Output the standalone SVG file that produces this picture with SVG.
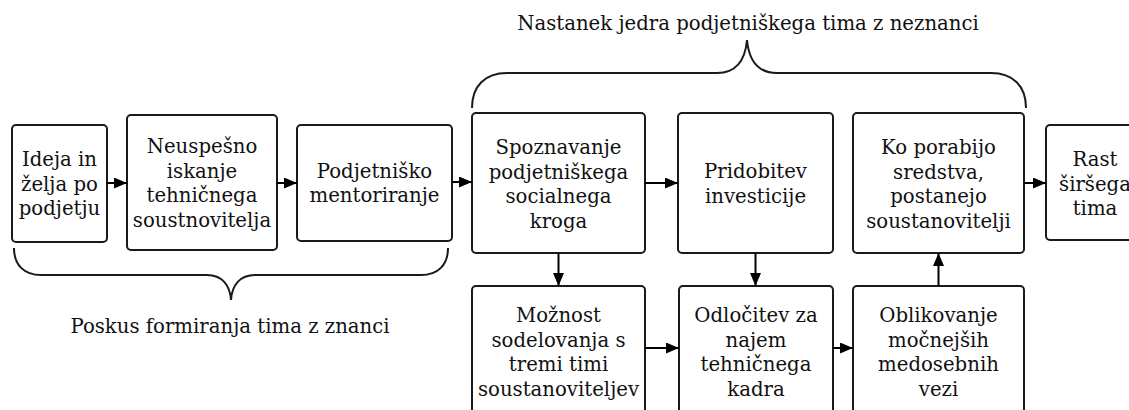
<svg xmlns="http://www.w3.org/2000/svg" width="1129" height="410" viewBox="0 0 1129 410">
<style>
.box{fill:#fff;stroke:#1a1a1a;stroke-width:2}
.t{font-family:"DejaVu Serif","Liberation Serif",serif;font-size:19.7px;fill:#111;text-anchor:middle}
.c{stroke:#000;stroke-width:2;fill:none}
.br{stroke:#1a1a1a;stroke-width:2;fill:none}
</style>
<defs>
<marker id="ah" viewBox="0 0 13 11" refX="13" refY="5.5" markerWidth="13" markerHeight="11" markerUnits="userSpaceOnUse" orient="auto">
<path d="M0,0 L13,5.5 L0,11 Z" fill="#000"/>
</marker>
</defs>
<rect width="1129" height="410" fill="#fff"/>
<g id="n1"><rect class="box" x="12" y="125" width="95" height="117" rx="4"/>
<text class="t"><tspan x="59.5" y="166">Ideja in</tspan><tspan x="59.5" y="190.5">želja po</tspan><tspan x="59.5" y="215">podjetju</tspan></text></g>
<g id="n2"><rect class="box" x="127" y="115" width="150" height="135" rx="4"/>
<text class="t"><tspan x="202" y="153">Neuspešno</tspan><tspan x="202" y="177.5">iskanje</tspan><tspan x="202" y="202">tehničnega</tspan><tspan x="202" y="226.5">soustnovitelja</tspan></text></g>
<g id="n3"><rect class="box" x="297" y="125" width="155" height="116" rx="4"/>
<text class="t"><tspan x="374.5" y="177.5">Podjetniško</tspan><tspan x="374.5" y="202">mentoriranje</tspan></text></g>
<g id="n4"><rect class="box" x="472" y="113" width="173" height="140" rx="4"/>
<text class="t"><tspan x="558.5" y="154">Spoznavanje</tspan><tspan x="558.5" y="178.5">podjetniškega</tspan><tspan x="558.5" y="203">socialnega</tspan><tspan x="558.5" y="227.5">kroga</tspan></text></g>
<g id="n5"><rect class="box" x="678" y="113" width="155" height="140" rx="4"/>
<text class="t"><tspan x="755.5" y="178">Pridobitev</tspan><tspan x="755.5" y="202.5">investicije</tspan></text></g>
<g id="n6"><rect class="box" x="853" y="113" width="171" height="140" rx="4"/>
<text class="t"><tspan x="938.5" y="154">Ko porabijo</tspan><tspan x="938.5" y="178.5">sredstva,</tspan><tspan x="938.5" y="203">postanejo</tspan><tspan x="938.5" y="227.5">soustanovitelji</tspan></text></g>
<g id="n7"><rect class="box" x="1046" y="125" width="100" height="115" rx="4"/>
<text class="t"><tspan x="1095" y="166">Rast</tspan><tspan x="1095" y="190.5">širšega</tspan><tspan x="1095" y="215">tima</tspan></text></g>
<g id="n8"><rect class="box" x="472" y="286" width="173" height="140" rx="4"/>
<text class="t"><tspan x="558.5" y="322">Možnost</tspan><tspan x="558.5" y="346.5">sodelovanja s</tspan><tspan x="558.5" y="371">tremi timi</tspan><tspan x="558.5" y="395.5">soustanoviteljev</tspan></text></g>
<g id="n9"><rect class="box" x="679" y="286" width="154" height="140" rx="4"/>
<text class="t"><tspan x="756" y="322">Odločitev za</tspan><tspan x="756" y="346.5">najem</tspan><tspan x="756" y="371">tehničnega</tspan><tspan x="756" y="395.5">kadra</tspan></text></g>
<g id="n10"><rect class="box" x="853" y="286" width="171" height="140" rx="4"/>
<text class="t"><tspan x="938.5" y="322">Oblikovanje</tspan><tspan x="938.5" y="346.5">močnejših</tspan><tspan x="938.5" y="371">medosebnih</tspan><tspan x="938.5" y="395.5">vezi</tspan></text></g>
<g id="braces">
<path class="br" d="M472,108 C472,86 485,73 507,73 L717,73 C735,73 745,62 747,40 C749,62 759,73 777,73 L991,73 C1013,73 1026,86 1026,108"/>
<text class="t" x="748" y="30">Nastanek jedra podjetniškega tima z neznanci</text>
<path class="br" d="M14,248 C14,265 24,275 41,275 L207,275 C222,275 230,285 231,300 C232,285 240,275 255,275 L421,275 C438,275 448,265 448,248"/>
<text class="t" x="230" y="333">Poskus formiranja tima z znanci</text>
</g>
<g id="connectors">
<line class="c" x1="107" y1="183" x2="127" y2="183" marker-end="url(#ah)"/>
<line class="c" x1="277" y1="183" x2="297" y2="183" marker-end="url(#ah)"/>
<line class="c" x1="452" y1="182" x2="472" y2="182" marker-end="url(#ah)"/>
<line class="c" x1="645" y1="183" x2="678" y2="183" marker-end="url(#ah)"/>
<line class="c" x1="1024" y1="183" x2="1046" y2="183" marker-end="url(#ah)"/>
<line class="c" x1="558.5" y1="253" x2="558.5" y2="286" marker-end="url(#ah)"/>
<line class="c" x1="755.5" y1="253" x2="755.5" y2="286" marker-end="url(#ah)"/>
<line class="c" x1="938.5" y1="286" x2="938.5" y2="253" marker-end="url(#ah)"/>
<line class="c" x1="645" y1="348" x2="679" y2="348" marker-end="url(#ah)"/>
<line class="c" x1="833" y1="348" x2="853" y2="348" marker-end="url(#ah)"/>
</g>
</svg>
